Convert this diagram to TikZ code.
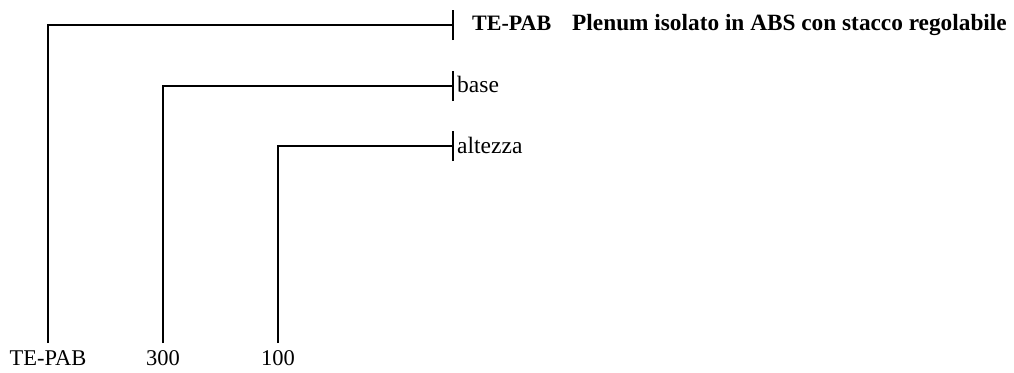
\documentclass[tikz,border=0pt]{standalone}
\usepackage{fontspec}
\setmainfont{Liberation Serif}
\begin{document}
\begin{tikzpicture}[x=1pt,y=-1pt,
  conn/.style={line width=2.2pt},
  lbl/.style={font=\fontsize{22.5}{26}\selectfont, inner sep=0pt},
  rlbl/.style={font=\fontsize{23.5}{27}\selectfont, inner sep=0pt, anchor=base west},
  ttl/.style={font=\bfseries, inner sep=0pt, anchor=base west}]
\useasboundingbox (0,0) rectangle (1014,372);
% bottom labels
\node[lbl, anchor=base] (l1) at (48,365) {TE-PAB};
\node[lbl, anchor=base] (l2) at (163,365) {300};
\node[lbl, anchor=base] (l3) at (278,365) {100};
% tick points
\coordinate (t1) at (453,25);
\coordinate (t2) at (453,86);
\coordinate (t3) at (453,146);
% right labels
\node[ttl] (r1) at (472,30) {\fontsize{22}{26}\selectfont TE-PAB\hspace{21pt}\fontsize{23.3}{26}\selectfont Plenum isolato in ABS con stacco regolabile};
\node[rlbl] (r2) at (457,92) {base};
\node[rlbl] (r3) at (457,153) {altezza};
% connectors
\coordinate (b1) at (48,343);
\coordinate (b2) at (163,343);
\coordinate (b3) at (278,343);
\draw[conn] (b1) |- (t1);
\draw[conn] (b2) |- (t2);
\draw[conn] (b3) |- (t3);
% ticks
\draw[conn] ([yshift=-15pt]t1) -- ([yshift=15pt]t1);
\draw[conn] ([yshift=-15pt]t2) -- ([yshift=15pt]t2);
\draw[conn] ([yshift=-15pt]t3) -- ([yshift=15pt]t3);
\end{tikzpicture}
\end{document}
